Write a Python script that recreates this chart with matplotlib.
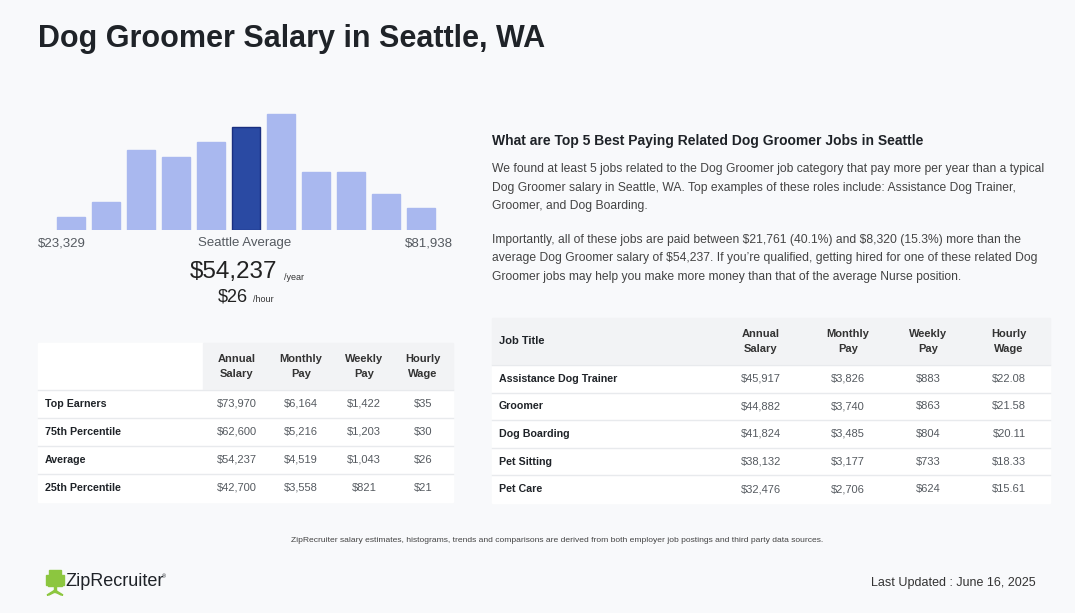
import matplotlib
matplotlib.use("Agg")
import matplotlib.pyplot as plt
from matplotlib.patches import Rectangle, Polygon

plt.rcParams['font.family'] = ['Liberation Sans', 'DejaVu Sans']
plt.rcParams['text.parse_math'] = False

# histogram (relative bar heights)
bar_heights = [12.7, 28, 80, 73, 87.7, 103, 116, 58, 58, 36.3, 22]
highlight = 5
salary_min = "$23,329"
salary_max = "$81,938"
avg_year = "$54,237"
avg_hour = "$26"

# left table
pay_cols = ["Annual\nSalary", "Monthly\nPay", "Weekly\nPay", "Hourly\nWage"]
pct_rows = ["Top Earners", "75th Percentile", "Average", "25th Percentile"]
pct_values = [
    ["$73,970", "$6,164", "$1,422", "$35"],
    ["$62,600", "$5,216", "$1,203", "$30"],
    ["$54,237", "$4,519", "$1,043", "$26"],
    ["$42,700", "$3,558", "$821", "$21"],
]

# right table
jobs = ["Assistance Dog Trainer", "Groomer", "Dog Boarding", "Pet Sitting", "Pet Care"]
job_values = [
    ["$45,917", "$3,826", "$883", "$22.08"],
    ["$44,882", "$3,740", "$863", "$21.58"],
    ["$41,824", "$3,485", "$804", "$20.11"],
    ["$38,132", "$3,177", "$733", "$18.33"],
    ["$32,476", "$2,706", "$624", "$15.61"],
]

heading = "What are Top 5 Best Paying Related Dog Groomer Jobs in Seattle"
para1 = ["We found at least 5 jobs related to the Dog Groomer job category that pay more per year than a typical",
         "Dog Groomer salary in Seattle, WA. Top examples of these roles include: Assistance Dog Trainer,",
         "Groomer, and Dog Boarding."]
para2 = ["Importantly, all of these jobs are paid between $21,761 (40.1%) and $8,320 (15.3%) more than the",
         "average Dog Groomer salary of $54,237. If you\u2019re qualified, getting hired for one of these related Dog",
         "Groomer jobs may help you make more money than that of the average Nurse position."]
footnote = ("ZipRecruiter salary estimates, histograms, trends and comparisons are derived "
            "from both employer job postings and third party data sources.")
updated = "Last Updated : June 16, 2025"

W, H = 1075, 613
BG = "#f8f9fb"
DARK = "#1f2328"
GRAY = "#555a60"
LINE = "#e8eaed"
HEAD = "#f2f3f5"

fig = plt.figure(figsize=(W / 100, H / 100), dpi=100)
fig.patch.set_facecolor(BG)

# background canvas in pixel coordinates
bg = fig.add_axes([0, 0, 1, 1])
bg.set_xlim(0, W)
bg.set_ylim(H, 0)
bg.axis("off")

bg.text(38, 39, "Dog Groomer Salary in Seattle, WA", fontsize=22, fontweight="bold",
        color=DARK, va="center", ha="left")

# histogram axes
ax = fig.add_axes([53.5 / W, 1 - 230 / H, 385 / W, 120 / H])
colors = ["#2a4aa3" if i == highlight else "#a9b8ef" for i in range(len(bar_heights))]
edges = ["#1a2f80" if i == highlight else "#a9b8ef" for i in range(len(bar_heights))]
ax.bar(range(len(bar_heights)), bar_heights, width=0.8, color=colors, edgecolor=edges, linewidth=1)
ax.set_xlim(-0.5, len(bar_heights) - 0.5)
ax.set_ylim(0, 120)
ax.axis("off")

bg.text(38, 243, salary_min, fontsize=9.5, color=GRAY, ha="left", va="center")
bg.text(245, 243, "Seattle Average", fontsize=9.5, color=GRAY, ha="center", va="center")
bg.text(453, 243, salary_max, fontsize=9.5, color=GRAY, ha="right", va="center")
bg.text(277, 272, avg_year, fontsize=17.5, color="#222", ha="right", va="center")
bg.text(284, 277, "/year", fontsize=6.5, color="#333", ha="left", va="center")
bg.text(248, 297, avg_hour, fontsize=13, color="#222", ha="right", va="center")
bg.text(253, 300, "/hour", fontsize=6.5, color="#333", ha="left", va="center")


def draw_table(x0, x1, y_head, head_h, row_h, first_label, rows, values, col_x, head_first_gray, label_w):
    # header
    if head_first_gray:
        bg.add_patch(Rectangle((x0, y_head), x1 - x0, head_h, color=HEAD, zorder=0))
    else:
        bg.add_patch(Rectangle((x0, y_head), label_w, head_h, color="white", zorder=0))
        bg.add_patch(Rectangle((x0 + label_w, y_head), x1 - x0 - label_w, head_h, color=HEAD, zorder=0))
    yc = y_head + head_h / 2
    if first_label:
        bg.text(x0 + 7, yc, first_label, fontsize=8, fontweight="bold", color=DARK, va="center")
    for cx, c in zip(col_x, pay_cols):
        bg.text(cx, yc, c, fontsize=8, fontweight="bold", color="#333", ha="center", va="center",
                linespacing=1.6)
    for i, (r, vals) in enumerate(zip(rows, values)):
        top = y_head + head_h + i * row_h
        bg.add_patch(Rectangle((x0, top), x1 - x0, row_h, color="white", zorder=0))
        bg.plot([x0, x1], [top, top], color=LINE, lw=1, zorder=1)
        bg.text(x0 + 7, top + row_h / 2, r, fontsize=7.7, fontweight="bold", color=DARK, va="center")
        for cx, v in zip(col_x, vals):
            bg.text(cx, top + row_h / 2, v, fontsize=8, color=GRAY, ha="center", va="center")


draw_table(38, 453, 343, 47, 28, None, pct_rows, pct_values, [237, 301, 364, 423], False, 165)
draw_table(492, 1050, 318, 47, 27.6, "Job Title", jobs, job_values, [761, 848, 928, 1009], True, 0)

# right text block
bg.text(492, 141, heading, fontsize=10, fontweight="bold", color=DARK, va="center")
for i, line in enumerate(para1):
    bg.text(492, 169 + i * 18.5, line, fontsize=8.75, color="#444", va="center")
for i, line in enumerate(para2):
    bg.text(492, 240 + i * 18.5, line, fontsize=8.75, color="#444", va="center")

bg.text(557, 541, footnote, fontsize=6.1, color="#444", ha="center", va="center")

# logo: simple green chair
green = "#8cc63f"
bg.add_patch(Rectangle((49, 570), 12, 13, color=green))
bg.add_patch(Rectangle((46, 575), 3, 10, color=green))
bg.add_patch(Rectangle((61, 575), 3, 10, color=green))
bg.add_patch(Rectangle((48, 583), 14, 3, color=green))
bg.add_patch(Rectangle((54, 586), 2, 6, color=green))
bg.add_patch(Polygon([(47, 595), (55, 590), (63, 595), (61, 595), (55, 592), (49, 595)], color=green))
bg.text(65, 581, "ZipRecruiter", fontsize=13, color=DARK, va="center", ha="left")
bg.text(162, 577, "\u00ae", fontsize=4, color=DARK, va="center", ha="left")

bg.text(1036, 583, updated, fontsize=9.0, color="#333", ha="right", va="center")

fig.savefig("out.png", dpi=100, facecolor=BG)
